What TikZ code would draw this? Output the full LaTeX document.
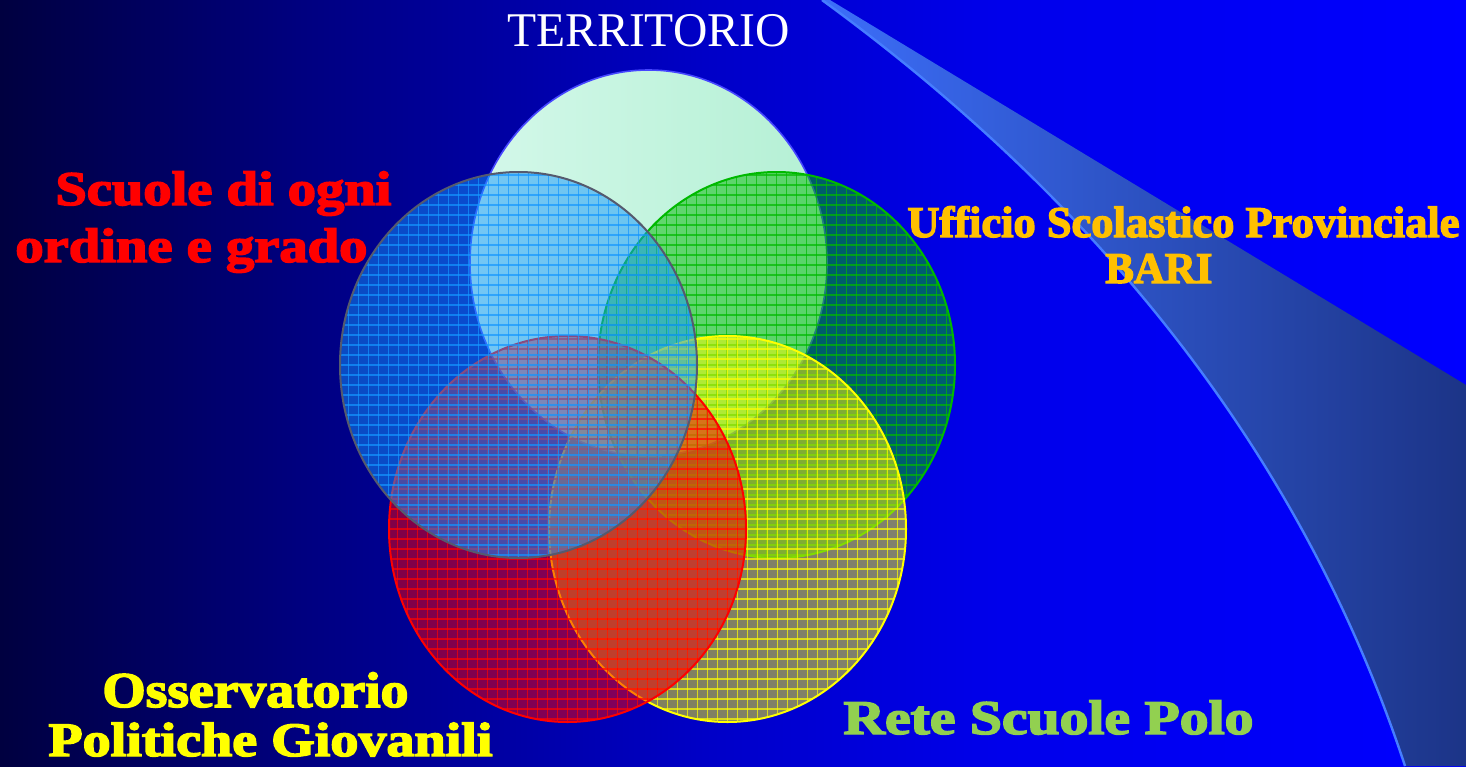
\documentclass[tikz,border=0pt]{standalone}
\usepackage{fontspec}
\usepackage{graphicx}
\setmainfont{Liberation Serif}
\newfontfamily\poster{Liberation Serif Bold}[FakeBold=3]
\definecolor{mintA}{RGB}{212,248,234}
\definecolor{mintB}{RGB}{180,240,212}
\definecolor{mintedge}{RGB}{70,70,255}
\definecolor{vblue}{RGB}{20,150,255}
\definecolor{vgreen}{RGB}{0,185,0}
\definecolor{vyellow}{RGB}{255,255,0}
\definecolor{vred}{RGB}{255,0,0}
\definecolor{blueedge}{RGB}{85,90,110}
\definecolor{txtorange}{RGB}{255,192,0}
\definecolor{txtgreen}{RGB}{146,208,80}
\definecolor{swl}{RGB}{60,110,250}
\definecolor{swr}{RGB}{28,52,135}
\definecolor{swedge}{RGB}{70,125,255}
\pgfdeclarehorizontalshading{bgshade}{100bp}{rgb(0bp)=(0,0,0.25); rgb(25bp)=(0,0,0.25); rgb(35.25bp)=(0,0,0.5); rgb(49bp)=(0,0,0.78); rgb(59bp)=(0,0,0.92); rgb(75bp)=(0,0,1); rgb(100bp)=(0,0,1)}
\tikzset{
  gridln/.style={draw=#1, line width=0.55pt, draw opacity=0.7},
  lbl/.style={inner sep=0pt, anchor=base west, font=\poster\fontsize{24.2pt}{28pt}\selectfont},
  ttl/.style={inner sep=0pt, anchor=base west, text=white, font=\fontsize{24.2pt}{28pt}\selectfont}
}
\newcommand\venn[5]{%
  \coordinate (#5) at (#1,#2);
  \begin{scope}
    \clip (#5) ellipse [x radius=89.25pt, y radius=96.5pt];
    \fill[#3, fill opacity=0.5] (#5) ellipse [x radius=89.25pt, y radius=96.5pt];
    \foreach \k in {-18,...,18}{\draw[gridln=#3] ([xshift=\k*5pt]#5) ++(0,-200) -- ++(0,400);}
    \foreach \k in {-20,...,20}{\draw[gridln=#3] ([yshift=\k*5pt]#5) ++(-190,0) -- ++(380,0);}
  \end{scope}
  \draw[#4, line width=1pt] (#5) ellipse [x radius=89.25pt, y radius=96.5pt];
}
\begin{document}
\begin{tikzpicture}[x=0.5pt,y=-0.5pt]
\useasboundingbox (0,0) rectangle (1466,766);
\shade[shading=bgshade] (0,0) rectangle (1466,766);
% swoosh
\coordinate (swA) at (822,0);
\coordinate (swB) at (830,0);
\coordinate (swC) at (1466,385);
\coordinate (swD) at (1466,766);
\coordinate (swE) at (1405,766);
\shade[left color=swl, right color=swr] (swA) -- (swB) -- (swC) -- (swD) -- (swE) .. controls (1306,466) and (1110,210) .. (swA) -- cycle;
\draw[swedge, line width=1.2pt] (swE) .. controls (1306,466) and (1110,210) .. (swA);
% territorio circle
\coordinate (cT) at (648.5,263);
\shade[left color=mintA, right color=mintB] (cT) ellipse [x radius=89.25pt, y radius=96.5pt];
\draw[mintedge, line width=0.8pt] (cT) ellipse [x radius=89.25pt, y radius=96.5pt];
\draw[mintedge!70!white, line width=1pt] ([xshift=-6.5pt,yshift=-96.5pt]cT) -- ([xshift=6.5pt,yshift=-96.5pt]cT);
% venn circles
\venn{776.5}{365}{vgreen}{vgreen}{cG}
\venn{727.5}{529}{vyellow}{vyellow}{cY}
\venn{567.5}{529}{vred}{vred}{cR}
\venn{518.5}{365}{vblue}{blueedge}{cB}
% labels
\node[ttl] (territorio) at (507,46) {\resizebox{141pt}{\height}{TERRITORIO}};
\node[lbl, text=vred] (scuole1) at (55,205) {\resizebox{168pt}{\height}{Scuole di ogni}};
\node[lbl, text=vred] (scuole2) at (15,262) {\resizebox{176pt}{\height}{ordine e grado}};
\node[lbl, text=txtorange, font=\poster\fontsize{21.9pt}{26pt}\selectfont] (usp1) at (907,237) {\resizebox{276pt}{\height}{Ufficio Scolastico Provinciale}};
\node[lbl, text=txtorange, font=\poster\fontsize{21.9pt}{26pt}\selectfont] (usp2) at (1105,283) {\resizebox{53.5pt}{\height}{BARI}};
\node[lbl, text=vyellow, font=\poster\fontsize{25pt}{29pt}\selectfont] (oss1) at (102,707) {\resizebox{153pt}{\height}{Osservatorio}};
\node[lbl, text=vyellow, font=\poster\fontsize{24pt}{29pt}\selectfont] (oss2) at (48,756) {\resizebox{222pt}{\height}{Politiche Giovanili}};
\node[lbl, text=txtgreen] (rete) at (843,734) {\resizebox{205pt}{\height}{Rete Scuole Polo}};
\end{tikzpicture}
\end{document}
